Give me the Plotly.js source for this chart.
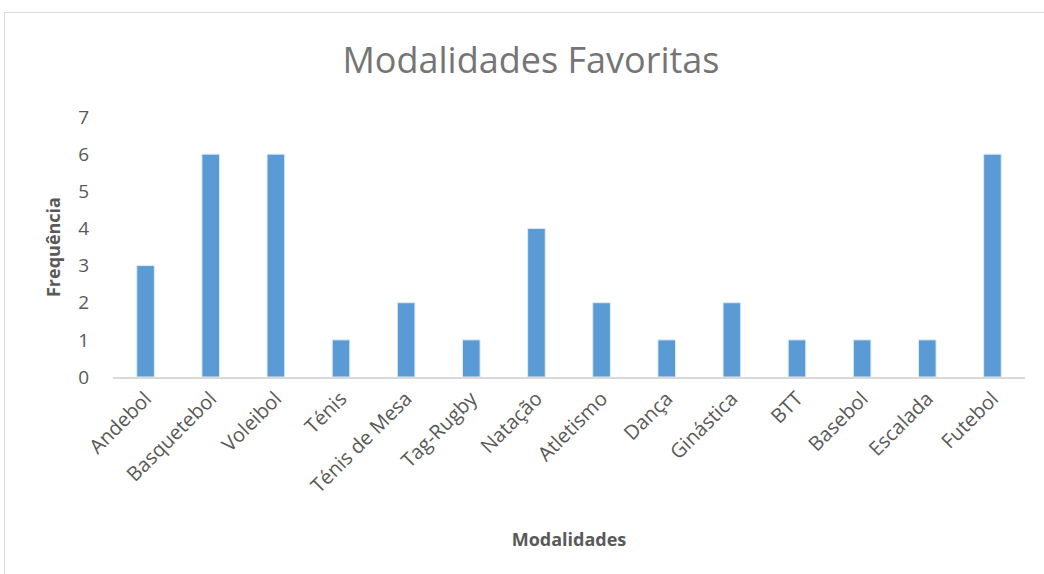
<!DOCTYPE html>
<html>
<head>
<meta charset="utf-8">
<script src="https://cdn.plot.ly/plotly-3.0.1.min.js"></script>
<style>
  html, body { margin: 0; padding: 0; background: #fff; }
  #wrap { position: relative; width: 1044px; height: 574px; overflow: hidden; }
  #frame { position: absolute; left: 4px; top: 12px; width: 1100px; height: 600px; border: 1px solid #D9D9D9; box-sizing: border-box; pointer-events: none; z-index: 5; }
  #chart { position: absolute; left: 0; top: 0; width: 1044px; height: 574px; }
</style>
</head>
<body>
<div id="wrap">
  <div id="chart"></div>
  <div id="frame"></div>
</div>
<script>
const categories = ["Andebol", "Basquetebol", "Voleibol", "Ténis", "Ténis de Mesa", "Tag-Rugby", "Natação", "Atletismo", "Dança", "Ginástica", "BTT", "Basebol", "Escalada", "Futebol"];
const frequencies = [3, 6, 6, 1, 2, 1, 4, 2, 1, 2, 1, 1, 1, 6];
const yTicks = [0, 1, 2, 3, 4, 5, 6, 7];

const trace = {
  type: "bar",
  x: categories,
  y: frequencies,
  width: 0.27,
  marker: { color: "#5B9BD5", line: { color: "#DDEBF7", width: 1 } },
  hoverinfo: "x+y"
};

const layout = {
  width: 1044,
  height: 574,
  margin: { l: 113, r: 19, t: 117, b: 197 },
  paper_bgcolor: "#FFFFFF",
  plot_bgcolor: "#FFFFFF",
  showlegend: false,
  font: { family: "Open Sans, sans-serif", color: "#595959" },
  title: {
    text: "Modalidades Favoritas",
    font: { family: "Open Sans, sans-serif", size: 36, color: "#757575" },
    x: 531 / 1044, xanchor: "center", y: 1 - 60 / 574, yanchor: "middle", yref: "container", xref: "paper"
  },
  xaxis: {
    type: "category",
    tickangle: -45,
    tickfont: { size: 20, color: "#595959" },
    showline: true, linecolor: "#D9D9D9", linewidth: 2,
    ticks: "", showgrid: false, zeroline: false,
    title: { text: "<b>Modalidades</b>", font: { size: 18, color: "#595959" }, standoff: 36 },
    automargin: false
  },
  yaxis: {
    range: [0, 7],
    tickvals: yTicks,
    ticktext: yTicks.map(String),
    tickfont: { size: 19, color: "#595959" },
    showgrid: false, zeroline: false, showline: false, ticks: "",
    ticklabelstandoff: 23,
    title: { text: "<b>Frequência</b>", font: { size: 18, color: "#595959" }, standoff: 12 },
    automargin: false
  },
  bargap: 0.73
};
layout.title.x = 531 / 1044;
layout.title.xref = "container";

Plotly.newPlot("chart", [trace], layout, { staticPlot: true, displayModeBar: false });
</script>
</body>
</html>
